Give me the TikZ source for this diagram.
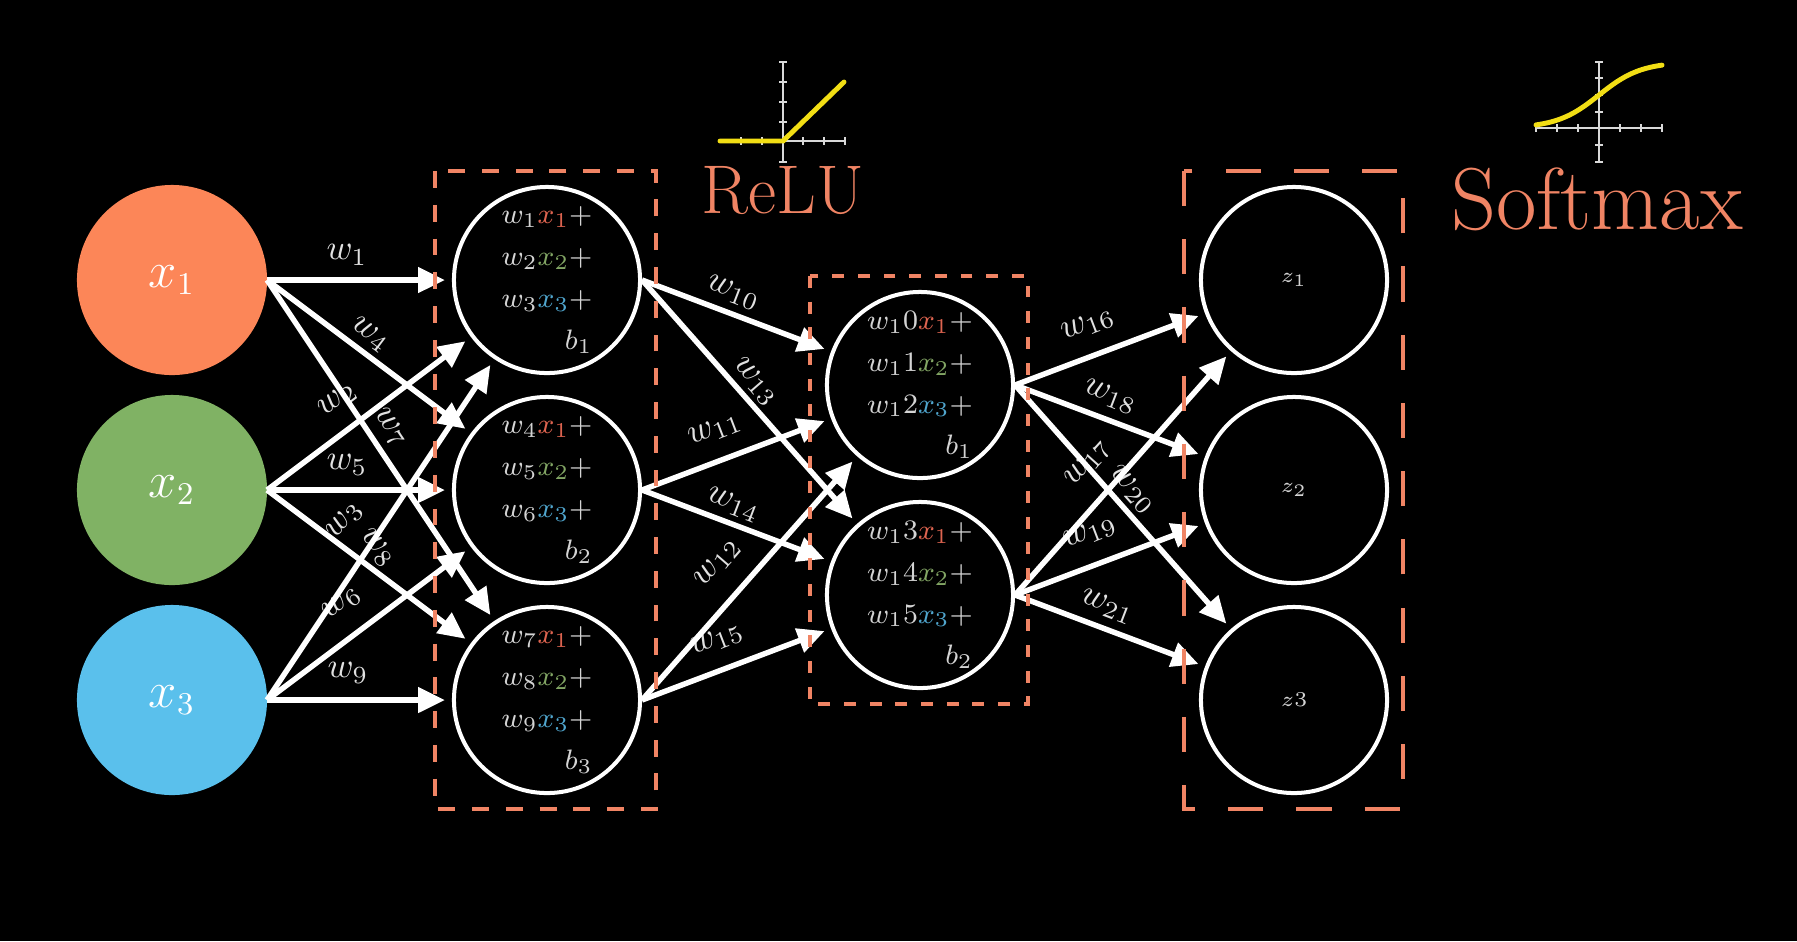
\documentclass[tikz,border=0pt]{standalone}
\usetikzlibrary{arrows.meta}
\definecolor{salmon}{RGB}{240,132,100}
\definecolor{cxone}{RGB}{252,134,88}
\definecolor{cxtwo}{RGB}{128,178,100}
\definecolor{cxthree}{RGB}{90,192,236}
\definecolor{tone}{RGB}{222,100,80}
\definecolor{ttwo}{RGB}{130,165,100}
\definecolor{tthree}{RGB}{80,165,205}
\definecolor{lbl}{RGB}{225,225,225}
\definecolor{ntext}{RGB}{212,212,212}
\definecolor{curve}{RGB}{242,222,20}
\begin{document}
\begin{tikzpicture}[x=0.01cm,y=-0.01cm,
  inp/.style={circle, minimum size=1.9cm, inner sep=0pt, outer sep=0pt, text=white, font=\fontsize{13.5}{15}\selectfont},
  neu/.style={circle, draw=white, fill=black, line width=1.14pt, minimum size=1.86cm, inner sep=0pt, align=right, text=ntext, font=\fontsize{8.4}{11.9}\selectfont},
  outn/.style={circle, draw=white, fill=black, line width=1.14pt, minimum size=1.86cm, inner sep=0pt, text=ntext, font=\fontsize{6.3}{8}\selectfont},
  conn/.style={draw=white, line width=1.55pt, -{Triangle[length=7.6pt,width=7pt]}, shorten >=2pt},
  wl/.style={text=lbl, inner sep=0pt, font=\fontsize{10.4}{12}\selectfont},
  dbox/.style={draw=salmon, line width=1.3pt},
  axis/.style={draw=white!85!black, line width=0.7pt},
  yel/.style={draw=curve, line width=1.4pt, line cap=round},
  ttl/.style={text=salmon, anchor=base, inner sep=0pt}]
\fill[black] (0,0) rectangle (1797,941);
\useasboundingbox (0,0) rectangle (1797,941);

% input nodes
\node[inp, fill=cxone] (x1) at (172,280) {$x_1$};
\node[inp, fill=cxtwo] (x2) at (172,490) {$x_2$};
\node[inp, fill=cxthree] (x3) at (172,700) {$x_3$};

% hidden layer 1
\node[neu] (h1) at (547,280) {$w_1{\color{tone}x_1}+$\\$w_2{\color{ttwo}x_2}+$\\$w_3{\color{tthree}x_3}+$\\$b_1$};
\node[neu] (h2) at (547,490) {$w_4{\color{tone}x_1}+$\\$w_5{\color{ttwo}x_2}+$\\$w_6{\color{tthree}x_3}+$\\$b_2$};
\node[neu] (h3) at (547,700) {$w_7{\color{tone}x_1}+$\\$w_8{\color{ttwo}x_2}+$\\$w_9{\color{tthree}x_3}+$\\$b_3$};

% hidden layer 2
\node[neu] (g1) at (920,385) {$w_10{\color{tone}x_1}+$\\$w_11{\color{ttwo}x_2}+$\\$w_12{\color{tthree}x_3}+$\\$b_1$};
\node[neu] (g2) at (920,595) {$w_13{\color{tone}x_1}+$\\$w_14{\color{ttwo}x_2}+$\\$w_15{\color{tthree}x_3}+$\\$b_2$};

% output layer
\node[outn] (z1) at (1294,280) {$z_1$};
\node[outn] (z2) at (1294,490) {$z_2$};
\node[outn] (z3) at (1294,700) {$z3$};

% weight labels
\node[wl] (lw1) at (347,255) {$w_1$};
\node[wl, rotate=-37] (lw4) at (370,335) {$w_4$};
\node[wl, rotate=37] (lw2) at (338,400) {$w_2$};
\node[wl, rotate=-56] (lw7) at (390,428) {$w_7$};
\node[wl] (lw5) at (347,465) {$w_5$};
\node[wl, rotate=50] (lw3) at (345,521) {$w_3$};
\node[wl, rotate=-50] (lw8) at (377,548) {$w_8$};
\node[wl, rotate=37] (lw6) at (342,603) {$w_6$};
\node[wl] (lw9) at (348,673) {$w_9$};
\node[wl, rotate=-21] (lw10) at (733,293) {$w_{10}$};
\node[wl, rotate=-49] (lw13) at (755,382) {$w_{13}$};
\node[wl, rotate=21] (lw11) at (715,430) {$w_{11}$};
\node[wl, rotate=-21] (lw14) at (733,505) {$w_{14}$};
\node[wl, rotate=49] (lw12) at (718,563) {$w_{12}$};
\node[wl, rotate=21] (lw15) at (717,640) {$w_{15}$};
\node[wl, rotate=21] (lw16) at (1088,325) {$w_{16}$};
\node[wl, rotate=-21] (lw18) at (1110,397) {$w_{18}$};
\node[wl, rotate=48] (lw17) at (1088,463) {$w_{17}$};
\node[wl, rotate=-48] (lw20) at (1132,490) {$w_{20}$};
\node[wl, rotate=21] (lw19) at (1090,533) {$w_{19}$};
\node[wl, rotate=-21] (lw21) at (1107,607) {$w_{21}$};

% connectors
\foreach \s in {x1,x2,x3}{
  \foreach \t in {h1,h2,h3}{
    \draw[conn] (\s.east) -- (\t);
  }
}
\foreach \s in {h1,h2,h3}{
  \foreach \t in {g1,g2}{
    \draw[conn] (\s.east) -- (\t);
  }
}
\foreach \s in {g1,g2}{
  \foreach \t in {z1,z2,z3}{
    \draw[conn] (\s.east) -- (\t);
  }
}

% dashed boxes
\draw[dbox, dash pattern=on 4.8pt off 4.8pt] (435,171) rectangle (656,809);
\draw[dbox, dash pattern=on 3.4pt off 3.9pt] (810,276) rectangle (1028,704);
\draw[dbox, dash pattern=on 10pt off 9.4pt] (1184,171) rectangle (1403,809);

% ReLU icon
\draw[axis] (720,141) -- (845,141);
\draw[axis] (783,62) -- (783,162);
\foreach \u in {762,741,803,824,845}{ \draw[axis] (\u,137) -- (\u,145); }
\foreach \v in {62,82,102,122,162}{ \draw[axis] (779,\v) -- (787,\v); }
\draw[yel] (720,141) -- (783,141) -- (844,82);
\node[ttl, font=\fontsize{19.6}{21}\selectfont] (relu) at (783,213) {ReLU};

% Softmax icon
\draw[axis] (1536,128) -- (1662,128);
\draw[axis] (1599,62) -- (1599,162);
\foreach \u in {1536,1557,1578,1620,1641,1662}{ \draw[axis] (\u,124) -- (\u,132); }
\foreach \v in {62,78,95,112,145,162}{ \draw[axis] (1595,\v) -- (1603,\v); }
\draw[yel] plot[domain=-3:3, samples=60, smooth] ({1599+21*\x}, {128-66/(1+exp(-\x))});
\node[ttl, font=\fontsize{25}{28}\selectfont] (softmax) at (1597,229) {Softmax};
\end{tikzpicture}
\end{document}
